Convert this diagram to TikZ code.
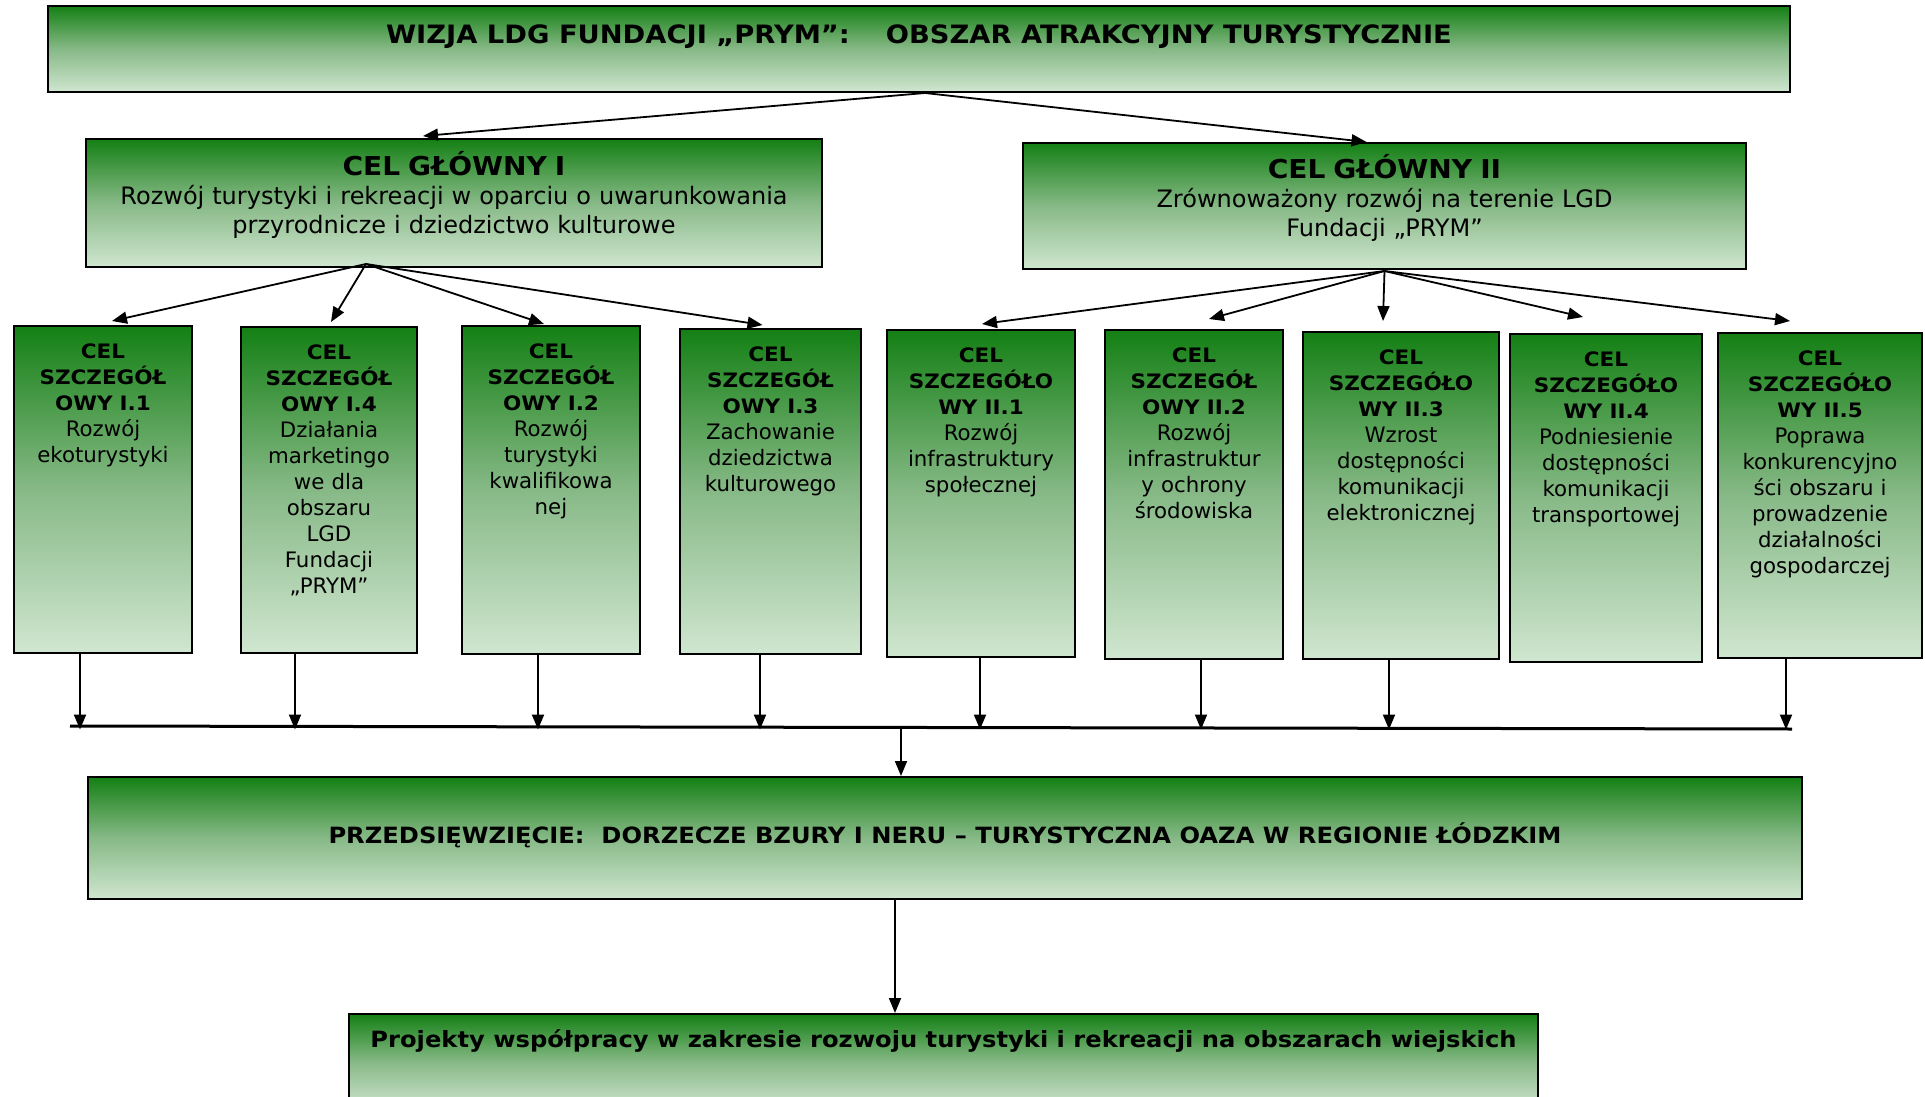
\documentclass[tikz,border=0pt]{standalone}
\usepackage{fontspec}
\setmainfont{DejaVu Sans}
\newfontfamily\widebf{DejaVu Sans}[FakeStretch=1.08]
\usetikzlibrary{arrows.meta}
\definecolor{celtop}{RGB}{20,128,20}
\definecolor{celmid}{RGB}{135,185,135}
\definecolor{celbot}{RGB}{208,230,208}
\newcommand{\celhd}[1]{{\widebf\bfseries\fontsize{19.9}{26}\selectfont #1}}
\newcommand{\mainhd}[1]{{\widebf\bfseries\fontsize{26}{29}\selectfont #1}}

\begin{document}
\begin{tikzpicture}[x=1pt,y=-1pt,
   box/.style={draw=black, line width=2pt, top color=celtop, bottom color=celbot, middle color=celmid, inner sep=0pt},
   celtxt/.style={anchor=base, inner sep=0pt, align=center, font=\fontsize{21.3}{26}\selectfont},
   maintxt/.style={anchor=base, inner sep=0pt, align=center, font=\fontsize{24}{29}\selectfont},
   headtxt/.style={anchor=base, inner sep=0pt, font=\widebf\bfseries\fontsize{#1}{29}\selectfont},
   arr/.style={-{Triangle[length=15pt,width=12pt]}, line width=1.8pt},
   downarr/.style={arr, line width=2pt, shorten >=-2pt}]
   \useasboundingbox (0,0) rectangle (1925,1097);
   \clip (0,0) rectangle (1925,1097);
   \fill[white] (0,0) rectangle (1925,1097);

   \node[box, minimum width=1742pt, minimum height=86pt] (top) at (919,49) {};
   \node[headtxt=25.3] (toptxt) at ([yshift=-38.5pt]top.north)
      {WIZJA LDG FUNDACJI „PRYM”:\hspace{36pt}OBSZAR ATRAKCYJNY TURYSTYCZNIE};

   \node[box, minimum width=736pt, minimum height=128pt] (cg1) at (454,203) {};
   \node[maintxt, text width=730pt] (cg1txt) at ([yshift=-37.5pt]cg1.north)
      {\mainhd{CEL GŁÓWNY I}\\Rozwój turystyki i rekreacji w oparciu o uwarunkowania\\przyrodnicze i dziedzictwo kulturowe};
   \node[box, minimum width=723pt, minimum height=126pt] (cg2) at (1384.5,206) {};
   \node[maintxt, text width=717pt] (cg2txt) at ([yshift=-36.5pt]cg2.north)
      {\mainhd{CEL GŁÓWNY II}\\Zrównoważony rozwój na terenie LGD\\Fundacji „PRYM”};

   \node[box, minimum width=178pt, minimum height=327pt] (s11) at (103,489.5) {};
   \node[box, minimum width=176pt, minimum height=326pt] (s14) at (329,490) {};
   \node[box, minimum width=178pt, minimum height=328pt] (s12) at (551,490) {};
   \node[box, minimum width=181pt, minimum height=325pt] (s13) at (770.5,491.5) {};
   \node[box, minimum width=188pt, minimum height=327pt] (s21) at (981,493.5) {};
   \node[box, minimum width=178pt, minimum height=329pt] (s22) at (1194,494.5) {};
   \node[box, minimum width=196pt, minimum height=327pt] (s23) at (1401,495.5) {};
   \node[box, minimum width=192pt, minimum height=328pt] (s24) at (1606,498) {};
   \node[box, minimum width=204pt, minimum height=325pt] (s25) at (1820,495.5) {};

   \node[celtxt, text width=172pt] (s11txt) at ([yshift=-33pt]s11.north)
      {\celhd{CEL\\SZCZEGÓŁ\\OWY I.1}\\Rozwój\\ekoturystyki};
   \node[celtxt, text width=170pt] (s14txt) at ([yshift=-33pt]s14.north)
      {\celhd{CEL\\SZCZEGÓŁ\\OWY I.4}\\Działania\\marketingo\\we dla\\obszaru\\LGD\\Fundacji\\„PRYM”};
   \node[celtxt, text width=172pt] (s12txt) at ([yshift=-33pt]s12.north)
      {\celhd{CEL\\SZCZEGÓŁ\\OWY I.2}\\Rozwój\\turystyki\\kwalifikowa\\nej};
   \node[celtxt, text width=175pt] (s13txt) at ([yshift=-33pt]s13.north)
      {\celhd{CEL\\SZCZEGÓŁ\\OWY I.3}\\Zachowanie\\dziedzictwa\\kulturowego};
   \node[celtxt, text width=182pt] (s21txt) at ([yshift=-33pt]s21.north)
      {\celhd{CEL\\SZCZEGÓŁO\\WY II.1}\\Rozwój\\infrastruktury\\społecznej};
   \node[celtxt, text width=172pt] (s22txt) at ([yshift=-33pt]s22.north)
      {\celhd{CEL\\SZCZEGÓŁ\\OWY II.2}\\Rozwój\\infrastruktur\\y ochrony\\środowiska};
   \node[celtxt, text width=190pt] (s23txt) at ([yshift=-33pt]s23.north)
      {\celhd{CEL\\SZCZEGÓŁO\\WY II.3}\\Wzrost\\dostępności\\komunikacji\\elektronicznej};
   \node[celtxt, text width=186pt] (s24txt) at ([yshift=-33pt]s24.north)
      {\celhd{CEL\\SZCZEGÓŁO\\WY II.4}\\Podniesienie\\dostępności\\komunikacji\\transportowej};
   \node[celtxt, text width=198pt] (s25txt) at ([yshift=-33pt]s25.north)
      {\celhd{CEL\\SZCZEGÓŁO\\WY II.5}\\Poprawa\\konkurencyjno\\ści obszaru i\\prowadzenie\\działalności\\gospodarczej};

   \node[box, minimum width=1714pt, minimum height=122pt] (przed) at (945,838) {};
   \node[headtxt=22.4] (przedtxt) at ([yshift=-5pt]przed.center)
      {PRZEDSIĘWZIĘCIE:\ \ DORZECZE BZURY I NERU – TURYSTYCZNA OAZA W REGIONIE ŁÓDZKIM};
   \node[box, minimum width=1189pt, minimum height=96pt] (proj) at (943.5,1062) {};
   \node[headtxt=22.4] (projtxt) at ([yshift=-34pt]proj.north)
      {Projekty współpracy w zakresie rozwoju turystyki i rekreacji na obszarach wiejskich};

   \coordinate (t0) at ([xshift=6pt]top.south);
   \draw[arr] (t0) -- ([xshift=-31pt,yshift=2pt]cg1.north);
   \draw[arr] (t0) -- ([xshift=-18pt]cg2.north);

   \coordinate (h1) at ([xshift=-88pt,yshift=4pt]cg1.south);
   \draw[arr] (h1) -- ([xshift=9pt,yshift=4pt]s11.north);
   \draw[arr] (h1) -- ([xshift=2pt,yshift=4pt]s14.north);
   \draw[arr] (h1) -- ([xshift=-7pt,yshift=1pt]s12.north);
   \draw[arr] (h1) -- ([xshift=-8pt,yshift=3pt]s13.north);

   \coordinate (h2) at ([yshift=-1pt]cg2.south);
   \draw[arr] (h2) -- ([xshift=1pt,yshift=5pt]s21.north);
   \draw[arr] (h2) -- ([xshift=15pt,yshift=10pt]s22.north);
   \draw[arr] (h2) -- ([xshift=-18pt,yshift=10pt]s23.north);
   \draw[arr] (h2) -- ([xshift=-23pt,yshift=16pt]s24.north);
   \draw[arr] (h2) -- ([xshift=-30pt,yshift=11pt]s25.north);

   \coordinate (bl) at (70,726);
   \coordinate (br) at (1792,729);
   \coordinate (bm) at (901,727.5);
   \draw[line width=3pt] (bl) -- (br);

   \coordinate (d1) at ([xshift=-23pt]s11.south);
   \coordinate (d2) at ([xshift=-34pt]s14.south);
   \coordinate (d3) at ([xshift=-13pt]s12.south);
   \coordinate (d4) at ([xshift=-10.5pt]s13.south);
   \coordinate (d5) at ([xshift=-1pt]s21.south);
   \coordinate (d6) at ([xshift=7pt]s22.south);
   \coordinate (d7) at ([xshift=-12pt]s23.south);
   \coordinate (d8) at ([xshift=-34pt]s25.south);
   \draw[downarr] (d1) -- (d1 |- bm);
   \draw[downarr] (d2) -- (d2 |- bm);
   \draw[downarr] (d3) -- (d3 |- bm);
   \draw[downarr] (d4) -- (d4 |- bm);
   \draw[downarr] (d5) -- (d5 |- bm);
   \draw[downarr] (d6) -- (d6 |- bm);
   \draw[downarr] (d7) -- (d7 |- bm);
   \draw[downarr] (d8) -- (d8 |- bm);

   \draw[arr] (bm) -- (bm |- przed.north);
   \coordinate (p0) at ([xshift=-50pt]przed.south);
   \draw[arr] (p0) -- (p0 |- proj.north);
\end{tikzpicture}
\end{document}
